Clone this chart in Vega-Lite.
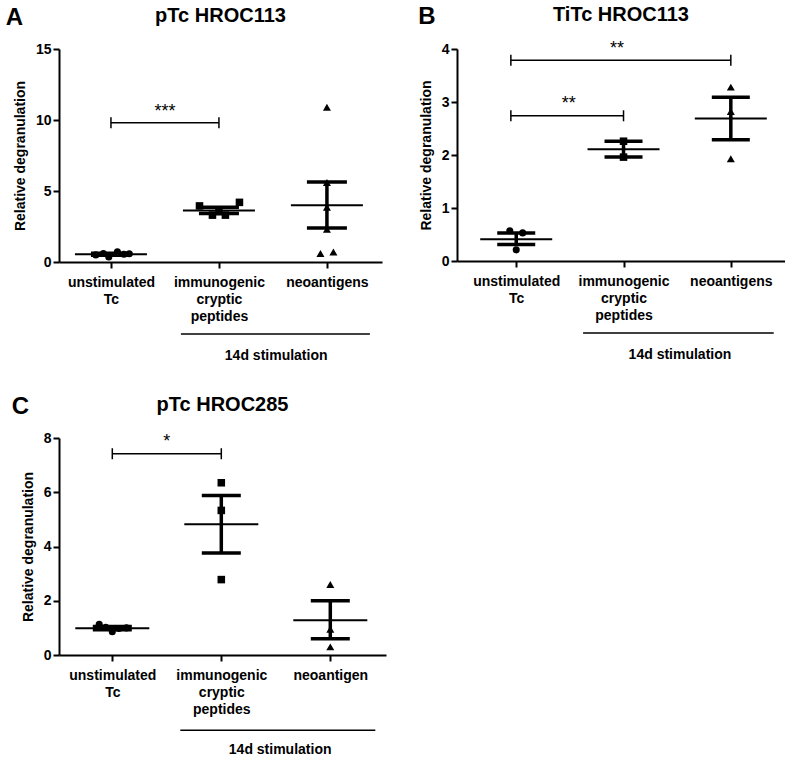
{
  "$schema": "https://vega.github.io/schema/vega-lite/v6.json",
  "background": "white",
  "padding": {"left": 5, "top": 5, "right": 0, "bottom": 0},
  "spacing": 30,
  "datasets": {
    "points": [
      {"p": "A", "g": "u", "x": 0.86, "y": 0.5},
      {"p": "A", "g": "u", "x": 0.93, "y": 0.6},
      {"p": "A", "g": "u", "x": 0.98, "y": 0.35},
      {"p": "A", "g": "u", "x": 1.06, "y": 0.72},
      {"p": "A", "g": "u", "x": 1.12, "y": 0.55},
      {"p": "A", "g": "u", "x": 1.17, "y": 0.58},
      {"p": "A", "g": "i", "x": 1.82, "y": 3.95},
      {"p": "A", "g": "i", "x": 1.94, "y": 3.3},
      {"p": "A", "g": "i", "x": 2.0, "y": 3.55},
      {"p": "A", "g": "i", "x": 2.06, "y": 3.3},
      {"p": "A", "g": "i", "x": 2.19, "y": 4.2},
      {"p": "A", "g": "n", "x": 3.0, "y": 10.9},
      {"p": "A", "g": "n", "x": 3.0, "y": 5.6},
      {"p": "A", "g": "n", "x": 3.0, "y": 3.85},
      {"p": "A", "g": "n", "x": 3.0, "y": 2.3},
      {"p": "A", "g": "n", "x": 2.94, "y": 0.6},
      {"p": "A", "g": "n", "x": 3.06, "y": 0.7},
      {"p": "B", "g": "u", "x": 0.94, "y": 0.57},
      {"p": "B", "g": "u", "x": 1.06, "y": 0.53},
      {"p": "B", "g": "u", "x": 1.0, "y": 0.21},
      {"p": "B", "g": "i", "x": 2.0, "y": 2.26},
      {"p": "B", "g": "i", "x": 2.0, "y": 1.96},
      {"p": "B", "g": "n", "x": 3.0, "y": 3.28},
      {"p": "B", "g": "n", "x": 3.0, "y": 2.82},
      {"p": "B", "g": "n", "x": 3.0, "y": 1.93},
      {"p": "C", "g": "u", "x": 0.88, "y": 1.13},
      {"p": "C", "g": "u", "x": 0.94, "y": 1.02},
      {"p": "C", "g": "u", "x": 1.0, "y": 0.86},
      {"p": "C", "g": "u", "x": 1.06, "y": 0.98},
      {"p": "C", "g": "u", "x": 1.13, "y": 1.0},
      {"p": "C", "g": "i", "x": 2.0, "y": 6.35},
      {"p": "C", "g": "i", "x": 2.0, "y": 5.33},
      {"p": "C", "g": "i", "x": 2.0, "y": 2.78},
      {"p": "C", "g": "n", "x": 3.0, "y": 2.6},
      {"p": "C", "g": "n", "x": 3.0, "y": 0.95},
      {"p": "C", "g": "n", "x": 3.0, "y": 0.3}
    ],
    "stats": [
      {"p": "A", "x": 1, "mean": 0.55, "lo": 0.47, "hi": 0.62},
      {"p": "A", "x": 2, "mean": 3.62, "lo": 3.42, "hi": 3.85},
      {"p": "A", "x": 3, "mean": 4.0, "lo": 2.4, "hi": 5.63},
      {"p": "B", "x": 1, "mean": 0.41, "lo": 0.31, "hi": 0.53},
      {"p": "B", "x": 2, "mean": 2.11, "lo": 1.96, "hi": 2.26},
      {"p": "B", "x": 3, "mean": 2.69, "lo": 2.29, "hi": 3.09},
      {"p": "C", "x": 1, "mean": 0.99, "lo": 0.93, "hi": 1.05},
      {"p": "C", "x": 2, "mean": 4.82, "lo": 3.76, "hi": 5.88},
      {"p": "C", "x": 3, "mean": 1.28, "lo": 0.6, "hi": 2.0}
    ],
    "brackets": [
      {"p": "A", "x1": 1, "x2": 2, "y": 9.8, "sx": 1.5, "sy": 10.58, "stars": "***"},
      {"p": "B", "x1": 0.95, "x2": 3, "y": 3.79, "sx": 1.94, "sy": 4.0, "stars": "**"},
      {"p": "B", "x1": 0.95, "x2": 2, "y": 2.74, "sx": 1.49, "sy": 2.97, "stars": "**"},
      {"p": "C", "x1": 1, "x2": 2, "y": 7.42, "sx": 1.5, "sy": 7.86, "stars": "*"}
    ],
    "groups": [
      {"p": "A", "x1": 1.648, "x2": 3.398, "y": -5.07, "tx": 2.53, "ty": -6.62, "label": "14d stimulation"},
      {"p": "B", "x1": 1.623, "x2": 3.4, "y": -1.358, "tx": 2.526, "ty": -1.774, "label": "14d stimulation"},
      {"p": "C", "x1": 1.624, "x2": 3.413, "y": -2.77, "tx": 2.54, "ty": -3.52, "label": "14d stimulation"}
    ],
    "letters": [
      {"p": "A", "x": 0.107, "y": 17.18, "label": "A"},
      {"p": "B", "x": 0.167, "y": 4.6, "label": "B"},
      {"p": "C", "x": 0.156, "y": 9.16, "label": "C"}
    ]
  },
  "config": {
    "view": {"stroke": null},
    "font": "Liberation Sans",
    "title": {"font": "Liberation Sans", "fontSize": 20, "fontWeight": "bold", "color": "black", "anchor": "middle", "frame": "group", "offset": -20},
    "axis": {"domainColor": "black", "domainWidth": 2, "tickColor": "black", "tickWidth": 2, "tickSize": 6, "labelColor": "black", "labelFont": "Liberation Sans", "labelFontWeight": "bold", "labelFontSize": 14, "titleFont": "Liberation Sans", "titleFontWeight": "bold", "titleFontSize": 14, "titleColor": "black", "grid": false, "labelOverlap": false, "labelFlush": false},
    "axisY": {"labelPadding": 2, "titlePadding": 8, "format": "d"},
    "axisX": {"labelPadding": 7, "labelLineHeight": 17},
    "tick": {"opacity": 1}
  },
  "vconcat": [
    {
      "spacing": 36,
      "hconcat": [
        {
          "width": 323, "height": 213,
          "title": {"text": "pTc HROC113"},
          "layer": [
            {"data": {"name": "points"}, "transform": [{"filter": "datum.p == 'A'"}],
             "mark": {"type": "point", "filled": true, "opacity": 1, "color": "black"},
             "encoding": {
               "x": {"field": "x", "type": "quantitative", "scale": {"domain": [0.519, 3.51], "nice": false, "zero": false}, "axis": {"values": [1, 2, 3], "title": null, "labelExpr": "datum.value == 1 ? ['unstimulated', 'Tc'] : datum.value == 2 ? ['immunogenic', 'cryptic', 'peptides'] : ['neoantigens']"}},
               "y": {"field": "y", "type": "quantitative", "scale": {"domain": [0, 15], "nice": false, "zero": false}, "axis": {"values": [0, 5, 10, 15], "title": "Relative degranulation"}},
               "shape": {"field": "g", "type": "nominal", "scale": {"domain": ["u", "i", "n"], "range": ["circle", "square", "triangle-up"]}, "legend": null},
               "size": {"field": "g", "type": "ordinal", "scale": {"domain": ["u", "i", "n"], "range": [50, 64, 80]}, "legend": null}
             }},
            {"data": {"name": "stats"}, "transform": [{"filter": "datum.p == 'A'"}],
             "mark": {"type": "tick", "orient": "horizontal", "size": 72, "thickness": 2, "color": "black", "opacity": 1},
             "encoding": {"x": {"field": "x", "type": "quantitative", "title": null}, "y": {"field": "mean", "type": "quantitative", "title": "Relative degranulation"}}},
            {"data": {"name": "stats"}, "transform": [{"filter": "datum.p == 'A'"}],
             "mark": {"type": "rule", "strokeWidth": 3.5, "color": "black"},
             "encoding": {"x": {"field": "x", "type": "quantitative", "title": null}, "y": {"field": "lo", "type": "quantitative", "title": "Relative degranulation"}, "y2": {"field": "hi"}}},
            {"data": {"name": "stats"}, "transform": [{"filter": "datum.p == 'A'"}],
             "mark": {"type": "tick", "orient": "horizontal", "size": 40, "thickness": 3.5, "color": "black", "opacity": 1},
             "encoding": {"x": {"field": "x", "type": "quantitative", "title": null}, "y": {"field": "lo", "type": "quantitative", "title": "Relative degranulation"}}},
            {"data": {"name": "stats"}, "transform": [{"filter": "datum.p == 'A'"}],
             "mark": {"type": "tick", "orient": "horizontal", "size": 40, "thickness": 3.5, "color": "black", "opacity": 1},
             "encoding": {"x": {"field": "x", "type": "quantitative", "title": null}, "y": {"field": "hi", "type": "quantitative", "title": "Relative degranulation"}}},
            {"data": {"name": "brackets"}, "transform": [{"filter": "datum.p == 'A'"}],
             "mark": {"type": "rule", "strokeWidth": 1.5, "color": "black"},
             "encoding": {"x": {"field": "x1", "type": "quantitative", "title": null}, "x2": {"field": "x2"}, "y": {"field": "y", "type": "quantitative", "title": "Relative degranulation"}}},
            {"data": {"name": "brackets"}, "transform": [{"filter": "datum.p == 'A'"}],
             "mark": {"type": "tick", "orient": "vertical", "size": 11, "thickness": 1.5, "color": "black", "opacity": 1},
             "encoding": {"x": {"field": "x1", "type": "quantitative", "title": null}, "y": {"field": "y", "type": "quantitative", "title": "Relative degranulation"}}},
            {"data": {"name": "brackets"}, "transform": [{"filter": "datum.p == 'A'"}],
             "mark": {"type": "tick", "orient": "vertical", "size": 11, "thickness": 1.5, "color": "black", "opacity": 1},
             "encoding": {"x": {"field": "x2", "type": "quantitative", "title": null}, "y": {"field": "y", "type": "quantitative", "title": "Relative degranulation"}}},
            {"data": {"name": "brackets"}, "transform": [{"filter": "datum.p == 'A'"}],
             "mark": {"type": "text", "fontSize": 18, "baseline": "middle", "align": "center", "color": "black"},
             "encoding": {"x": {"field": "sx", "type": "quantitative", "title": null}, "y": {"field": "sy", "type": "quantitative", "title": "Relative degranulation"}, "text": {"field": "stars"}}},
            {"data": {"name": "groups"}, "transform": [{"filter": "datum.p == 'A'"}],
             "mark": {"type": "rule", "strokeWidth": 1.5, "color": "black"},
             "encoding": {"x": {"field": "x1", "type": "quantitative", "title": null}, "x2": {"field": "x2"}, "y": {"field": "y", "type": "quantitative", "title": "Relative degranulation"}}},
            {"data": {"name": "groups"}, "transform": [{"filter": "datum.p == 'A'"}],
             "mark": {"type": "text", "fontSize": 14, "fontWeight": "bold", "baseline": "middle", "align": "center", "color": "black"},
             "encoding": {"x": {"field": "tx", "type": "quantitative", "title": null}, "y": {"field": "ty", "type": "quantitative", "title": "Relative degranulation"}, "text": {"field": "label"}}},
            {"data": {"name": "letters"}, "transform": [{"filter": "datum.p == 'A'"}],
             "mark": {"type": "text", "fontSize": 24, "fontWeight": "bold", "baseline": "middle", "align": "center", "color": "black"},
             "encoding": {"x": {"field": "x", "type": "quantitative", "title": null}, "y": {"field": "y", "type": "quantitative", "title": "Relative degranulation"}, "text": {"field": "label"}}}
          ]
        },
        {
          "width": 328, "height": 212,
          "title": {"text": "TiTc HROC113"},
          "layer": [
            {"data": {"name": "points"}, "transform": [{"filter": "datum.p == 'B'"}],
             "mark": {"type": "point", "filled": true, "opacity": 1, "color": "black"},
             "encoding": {
               "x": {"field": "x", "type": "quantitative", "scale": {"domain": [0.448, 3.505], "nice": false, "zero": false}, "axis": {"values": [1, 2, 3], "title": null, "labelExpr": "datum.value == 1 ? ['unstimulated', 'Tc'] : datum.value == 2 ? ['immunogenic', 'cryptic', 'peptides'] : ['neoantigens']"}},
               "y": {"field": "y", "type": "quantitative", "scale": {"domain": [0, 4], "nice": false, "zero": false}, "axis": {"values": [0, 1, 2, 3, 4], "title": "Relative degranulation"}},
               "shape": {"field": "g", "type": "nominal", "scale": {"domain": ["u", "i", "n"], "range": ["circle", "square", "triangle-up"]}, "legend": null},
               "size": {"field": "g", "type": "ordinal", "scale": {"domain": ["u", "i", "n"], "range": [50, 64, 80]}, "legend": null}
             }},
            {"data": {"name": "stats"}, "transform": [{"filter": "datum.p == 'B'"}],
             "mark": {"type": "tick", "orient": "horizontal", "size": 72, "thickness": 2, "color": "black", "opacity": 1},
             "encoding": {"x": {"field": "x", "type": "quantitative", "title": null}, "y": {"field": "mean", "type": "quantitative", "title": "Relative degranulation"}}},
            {"data": {"name": "stats"}, "transform": [{"filter": "datum.p == 'B'"}],
             "mark": {"type": "rule", "strokeWidth": 3.5, "color": "black"},
             "encoding": {"x": {"field": "x", "type": "quantitative", "title": null}, "y": {"field": "lo", "type": "quantitative", "title": "Relative degranulation"}, "y2": {"field": "hi"}}},
            {"data": {"name": "stats"}, "transform": [{"filter": "datum.p == 'B'"}],
             "mark": {"type": "tick", "orient": "horizontal", "size": 38, "thickness": 3.5, "color": "black", "opacity": 1},
             "encoding": {"x": {"field": "x", "type": "quantitative", "title": null}, "y": {"field": "lo", "type": "quantitative", "title": "Relative degranulation"}}},
            {"data": {"name": "stats"}, "transform": [{"filter": "datum.p == 'B'"}],
             "mark": {"type": "tick", "orient": "horizontal", "size": 38, "thickness": 3.5, "color": "black", "opacity": 1},
             "encoding": {"x": {"field": "x", "type": "quantitative", "title": null}, "y": {"field": "hi", "type": "quantitative", "title": "Relative degranulation"}}},
            {"data": {"name": "brackets"}, "transform": [{"filter": "datum.p == 'B'"}],
             "mark": {"type": "rule", "strokeWidth": 1.5, "color": "black"},
             "encoding": {"x": {"field": "x1", "type": "quantitative", "title": null}, "x2": {"field": "x2"}, "y": {"field": "y", "type": "quantitative", "title": "Relative degranulation"}}},
            {"data": {"name": "brackets"}, "transform": [{"filter": "datum.p == 'B'"}],
             "mark": {"type": "tick", "orient": "vertical", "size": 11, "thickness": 1.5, "color": "black", "opacity": 1},
             "encoding": {"x": {"field": "x1", "type": "quantitative", "title": null}, "y": {"field": "y", "type": "quantitative", "title": "Relative degranulation"}}},
            {"data": {"name": "brackets"}, "transform": [{"filter": "datum.p == 'B'"}],
             "mark": {"type": "tick", "orient": "vertical", "size": 11, "thickness": 1.5, "color": "black", "opacity": 1},
             "encoding": {"x": {"field": "x2", "type": "quantitative", "title": null}, "y": {"field": "y", "type": "quantitative", "title": "Relative degranulation"}}},
            {"data": {"name": "brackets"}, "transform": [{"filter": "datum.p == 'B'"}],
             "mark": {"type": "text", "fontSize": 18, "baseline": "middle", "align": "center", "color": "black"},
             "encoding": {"x": {"field": "sx", "type": "quantitative", "title": null}, "y": {"field": "sy", "type": "quantitative", "title": "Relative degranulation"}, "text": {"field": "stars"}}},
            {"data": {"name": "groups"}, "transform": [{"filter": "datum.p == 'B'"}],
             "mark": {"type": "rule", "strokeWidth": 1.5, "color": "black"},
             "encoding": {"x": {"field": "x1", "type": "quantitative", "title": null}, "x2": {"field": "x2"}, "y": {"field": "y", "type": "quantitative", "title": "Relative degranulation"}}},
            {"data": {"name": "groups"}, "transform": [{"filter": "datum.p == 'B'"}],
             "mark": {"type": "text", "fontSize": 14, "fontWeight": "bold", "baseline": "middle", "align": "center", "color": "black"},
             "encoding": {"x": {"field": "tx", "type": "quantitative", "title": null}, "y": {"field": "ty", "type": "quantitative", "title": "Relative degranulation"}, "text": {"field": "label"}}},
            {"data": {"name": "letters"}, "transform": [{"filter": "datum.p == 'B'"}],
             "mark": {"type": "text", "fontSize": 24, "fontWeight": "bold", "baseline": "middle", "align": "center", "color": "black"},
             "encoding": {"x": {"field": "x", "type": "quantitative", "title": null}, "y": {"field": "y", "type": "quantitative", "title": "Relative degranulation"}, "text": {"field": "label"}}}
          ]
        }
      ]
    },
    {
      "width": 327, "height": 217,
      "title": {"text": "pTc HROC285"},
      "layer": [
        {"data": {"name": "points"}, "transform": [{"filter": "datum.p == 'C'"}],
         "mark": {"type": "point", "filled": true, "opacity": 1, "color": "black"},
         "encoding": {
           "x": {"field": "x", "type": "quantitative", "scale": {"domain": [0.511, 3.511], "nice": false, "zero": false}, "axis": {"values": [1, 2, 3], "title": null, "labelExpr": "datum.value == 1 ? ['unstimulated', 'Tc'] : datum.value == 2 ? ['immunogenic', 'cryptic', 'peptides'] : ['neoantigen']"}},
           "y": {"field": "y", "type": "quantitative", "scale": {"domain": [0, 8], "nice": false, "zero": false}, "axis": {"values": [0, 2, 4, 6, 8], "title": "Relative degranulation"}},
           "shape": {"field": "g", "type": "nominal", "scale": {"domain": ["u", "i", "n"], "range": ["circle", "square", "triangle-up"]}, "legend": null},
           "size": {"field": "g", "type": "ordinal", "scale": {"domain": ["u", "i", "n"], "range": [50, 64, 80]}, "legend": null}
         }},
        {"data": {"name": "stats"}, "transform": [{"filter": "datum.p == 'C'"}],
         "mark": {"type": "tick", "orient": "horizontal", "size": 74, "thickness": 2, "color": "black", "opacity": 1},
         "encoding": {"x": {"field": "x", "type": "quantitative", "title": null}, "y": {"field": "mean", "type": "quantitative", "title": "Relative degranulation"}}},
        {"data": {"name": "stats"}, "transform": [{"filter": "datum.p == 'C'"}],
         "mark": {"type": "rule", "strokeWidth": 3.5, "color": "black"},
         "encoding": {"x": {"field": "x", "type": "quantitative", "title": null}, "y": {"field": "lo", "type": "quantitative", "title": "Relative degranulation"}, "y2": {"field": "hi"}}},
        {"data": {"name": "stats"}, "transform": [{"filter": "datum.p == 'C'"}],
         "mark": {"type": "tick", "orient": "horizontal", "size": 39, "thickness": 3.5, "color": "black", "opacity": 1},
         "encoding": {"x": {"field": "x", "type": "quantitative", "title": null}, "y": {"field": "lo", "type": "quantitative", "title": "Relative degranulation"}}},
        {"data": {"name": "stats"}, "transform": [{"filter": "datum.p == 'C'"}],
         "mark": {"type": "tick", "orient": "horizontal", "size": 39, "thickness": 3.5, "color": "black", "opacity": 1},
         "encoding": {"x": {"field": "x", "type": "quantitative", "title": null}, "y": {"field": "hi", "type": "quantitative", "title": "Relative degranulation"}}},
        {"data": {"name": "brackets"}, "transform": [{"filter": "datum.p == 'C'"}],
         "mark": {"type": "rule", "strokeWidth": 1.5, "color": "black"},
         "encoding": {"x": {"field": "x1", "type": "quantitative", "title": null}, "x2": {"field": "x2"}, "y": {"field": "y", "type": "quantitative", "title": "Relative degranulation"}}},
        {"data": {"name": "brackets"}, "transform": [{"filter": "datum.p == 'C'"}],
         "mark": {"type": "tick", "orient": "vertical", "size": 11, "thickness": 1.5, "color": "black", "opacity": 1},
         "encoding": {"x": {"field": "x1", "type": "quantitative", "title": null}, "y": {"field": "y", "type": "quantitative", "title": "Relative degranulation"}}},
        {"data": {"name": "brackets"}, "transform": [{"filter": "datum.p == 'C'"}],
         "mark": {"type": "tick", "orient": "vertical", "size": 11, "thickness": 1.5, "color": "black", "opacity": 1},
         "encoding": {"x": {"field": "x2", "type": "quantitative", "title": null}, "y": {"field": "y", "type": "quantitative", "title": "Relative degranulation"}}},
        {"data": {"name": "brackets"}, "transform": [{"filter": "datum.p == 'C'"}],
         "mark": {"type": "text", "fontSize": 18, "baseline": "middle", "align": "center", "color": "black"},
         "encoding": {"x": {"field": "sx", "type": "quantitative", "title": null}, "y": {"field": "sy", "type": "quantitative", "title": "Relative degranulation"}, "text": {"field": "stars"}}},
        {"data": {"name": "groups"}, "transform": [{"filter": "datum.p == 'C'"}],
         "mark": {"type": "rule", "strokeWidth": 1.5, "color": "black"},
         "encoding": {"x": {"field": "x1", "type": "quantitative", "title": null}, "x2": {"field": "x2"}, "y": {"field": "y", "type": "quantitative", "title": "Relative degranulation"}}},
        {"data": {"name": "groups"}, "transform": [{"filter": "datum.p == 'C'"}],
         "mark": {"type": "text", "fontSize": 14, "fontWeight": "bold", "baseline": "middle", "align": "center", "color": "black"},
         "encoding": {"x": {"field": "tx", "type": "quantitative", "title": null}, "y": {"field": "ty", "type": "quantitative", "title": "Relative degranulation"}, "text": {"field": "label"}}},
        {"data": {"name": "letters"}, "transform": [{"filter": "datum.p == 'C'"}],
         "mark": {"type": "text", "fontSize": 24, "fontWeight": "bold", "baseline": "middle", "align": "center", "color": "black"},
         "encoding": {"x": {"field": "x", "type": "quantitative", "title": null}, "y": {"field": "y", "type": "quantitative", "title": "Relative degranulation"}, "text": {"field": "label"}}}
      ]
    }
  ]
}
